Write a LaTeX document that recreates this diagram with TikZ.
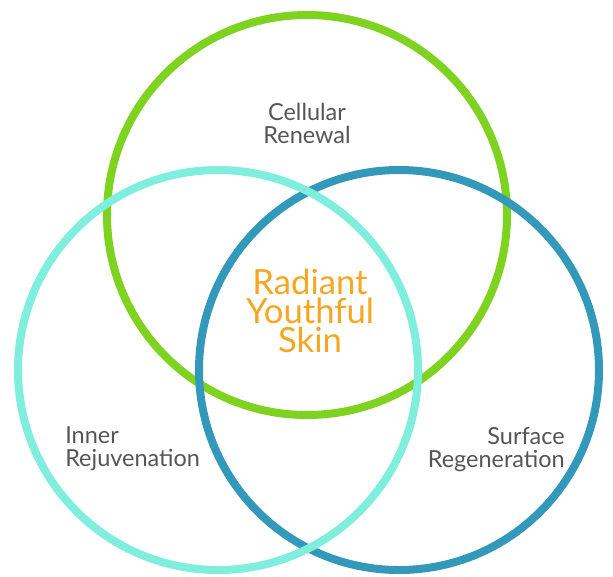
\documentclass[tikz,border=0pt]{standalone}
\usepackage{fontspec}
\setmainfont{Lato}
\usetikzlibrary{positioning}
\definecolor{ringgreen}{HTML}{7ED321}
\definecolor{ringblue}{HTML}{3399BB}
\definecolor{ringcyan}{HTML}{80EEDD}
\definecolor{labelgray}{HTML}{555555}
\definecolor{coreorange}{HTML}{F5A623}

\begin{document}
\begin{tikzpicture}[x=0.75pt,y=-0.75pt,
   ring/.style={circle,draw=#1,line width=6pt,minimum size=300pt,inner sep=0pt},
   area/.style={text=labelgray,inner sep=0pt,font=\fontsize{17.6}{17}\selectfont},
   core/.style={text=coreorange,inner sep=0pt,align=center,font=\fontsize{26}{21.75}\selectfont}]
   \useasboundingbox (0,0) rectangle (613,576);
   % the three rings, cyan on top
   \node[ring=ringgreen] (renewal) at (307,215) {};
   \node[ring=ringblue] (surface) at (399,370) {};
   \node[ring=ringcyan] (inner) at (218,370) {};
   % labels
   \node[area,align=center,anchor=base] (renewaltext) at (307,143) {Cellular\\Renewal};
   \node[area,align=left,anchor=base west] (innertext) at (65,466) {Inner\\Rejuvenation};
   \node[area,align=right,anchor=base east] (surfacetext) at (565,467) {Surface\\Regeneration};
   \node[core,anchor=base] (skin) at (310,352) {Radiant\\Youthful\\Skin};
\end{tikzpicture}
\end{document}
